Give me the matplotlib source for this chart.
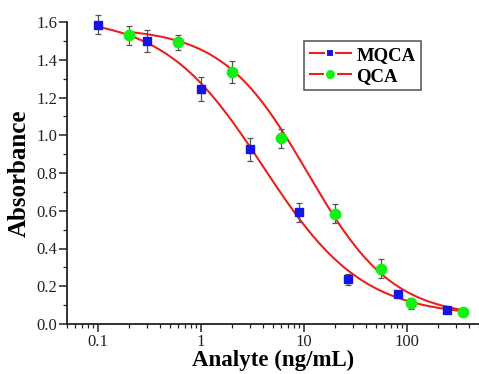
import numpy as np
import matplotlib
matplotlib.use("Agg")
import matplotlib.pyplot as plt
from matplotlib.lines import Line2D

# ---- data ----
mqca_x = [0.1, 0.3, 1, 3, 9, 27, 81, 243]
mqca_y = [1.585, 1.500, 1.245, 0.925, 0.593, 0.236, 0.160, 0.075]
mqca_err = [0.05, 0.06, 0.065, 0.06, 0.05, 0.03, 0.015, 0.01]

qca_x = [0.2, 0.6, 2, 6, 20, 56, 110, 350]
qca_y = [1.530, 1.493, 1.335, 0.983, 0.585, 0.293, 0.110, 0.063]
qca_err = [0.05, 0.04, 0.06, 0.05, 0.05, 0.05, 0.03, 0.02]

# 4-parameter logistic fit parameters: top, bottom, x0, slope
mqca_fit = [1.63, 0.04, 4.0, 0.9]
qca_fit = [1.57, 0.035, 10.8, 1.05]
mqca_range = [0.1, 350]
qca_range = [0.2, 350]

x_ticks = [0.1, 1, 10, 100]
x_ticklabels = ["0.1", "1", "10", "100"]
y_ticks = [0.0, 0.2, 0.4, 0.6, 0.8, 1.0, 1.2, 1.4, 1.6]

plt.rcParams['font.family'] = ['Liberation Serif', 'DejaVu Serif']

def logistic(x, p):
    top, bottom, x0, s = p
    return bottom + (top - bottom) / (1 + (x / x0) ** s)

fig = plt.figure(figsize=(4.79, 3.74), dpi=100)
ax = fig.add_axes([67/479, 50/374, 412/479, 302/374])

red = '#e8221e'
blue = '#1414e6'
green = '#14f014'

xc = np.logspace(np.log10(mqca_range[0]), np.log10(mqca_range[1]), 300)
ax.plot(xc, logistic(xc, mqca_fit), color=red, lw=1.5, zorder=2, clip_on=False)
xc2 = np.logspace(np.log10(qca_range[0]), np.log10(qca_range[1]), 300)
ax.plot(xc2, logistic(xc2, qca_fit), color=red, lw=1.5, zorder=2, clip_on=False)

ax.errorbar(mqca_x, mqca_y, yerr=mqca_err, fmt='s', color=blue, ms=5.5,
            mec=blue, ecolor='#555555', elinewidth=0.9, capsize=2.5,
            capthick=0.9, zorder=3, clip_on=False)
ax.errorbar(qca_x, qca_y, yerr=qca_err, fmt='o', color=green, ms=7.5,
            mec=green, ecolor='#555555', elinewidth=0.9, capsize=2.5,
            capthick=0.9, zorder=3, clip_on=False)

ax.set_xscale('log')
ax.set_xlim(0.05, 500)
ax.set_ylim(0, 1.6)
ax.set_xticks(x_ticks)
ax.set_xticklabels(x_ticklabels)
ax.set_yticks(y_ticks)
ax.set_yticklabels([f"{v:.1f}" for v in y_ticks])
ax.yaxis.set_minor_locator(matplotlib.ticker.MultipleLocator(0.1))
ax.xaxis.set_minor_locator(matplotlib.ticker.LogLocator(base=10, subs=np.arange(2, 10)))
ax.xaxis.set_minor_formatter(matplotlib.ticker.NullFormatter())

for s in ['top', 'right']:
    ax.spines[s].set_visible(False)
for s in ['left', 'bottom']:
    ax.spines[s].set_linewidth(1.3)
    ax.spines[s].set_color('#222222')
ax.tick_params(which='major', direction='out', length=5.5, width=1.1,
               labelsize=12, colors='#222222', pad=1.5)
ax.tick_params(which='minor', direction='out', length=3, width=0.9, colors='#222222')

ax.set_xlabel('Analyte (ng/mL)', fontsize=16.5, fontweight='bold', labelpad=0)
ax.set_ylabel('Absorbance', fontsize=18, fontweight='bold', labelpad=4)

handles = [
    Line2D([], [], color=red, lw=1.5, marker='s', ms=6, mfc=blue, mec='white', mew=1.5),
    Line2D([], [], color=red, lw=1.5, marker='o', ms=8, mfc=green, mec='white', mew=1.5),
]
leg = ax.legend(handles, ['MQCA', 'QCA'], loc='upper left',
                bbox_to_anchor=(304/479, 1 - 41/374), bbox_transform=fig.transFigure,
                borderaxespad=0, frameon=True, fancybox=False, handlelength=2.2,
                handletextpad=0.3, borderpad=0.3, labelspacing=0.2,
                prop={'weight': 'bold', 'size': 13.5})
leg.get_frame().set_edgecolor('#333333')
leg.get_frame().set_linewidth(1.2)

fig.savefig('out.png', dpi=100)
